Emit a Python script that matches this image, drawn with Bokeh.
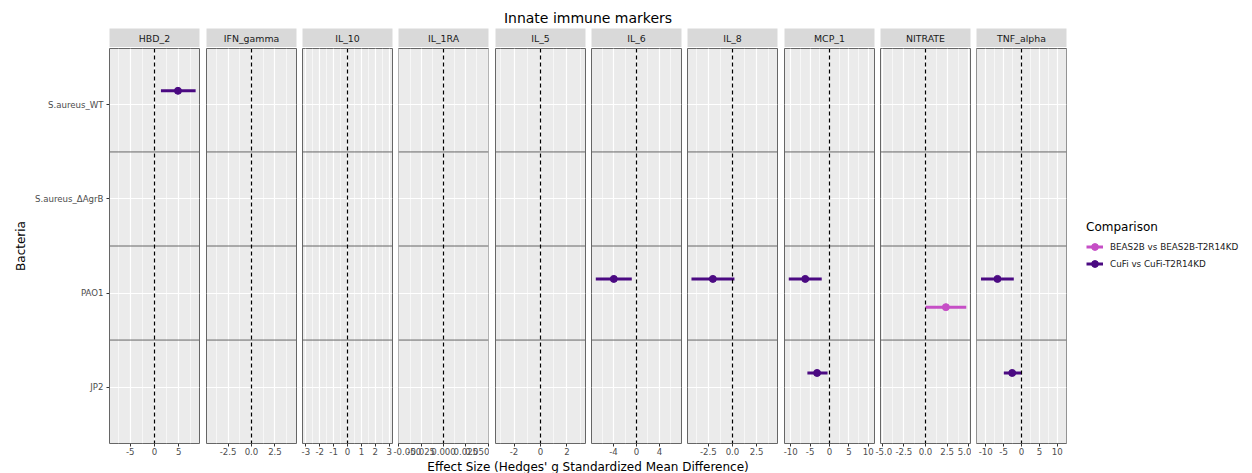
from bokeh.plotting import figure
from bokeh.models import (Range1d, FactorRange, FixedTicker, ColumnDataSource, Span, Label,
                          Legend, LegendItem, Grid, CategoricalTicker)
from bokeh.layouts import row, column
from bokeh.transform import dodge
from bokeh.embed import file_html
from bokeh.resources import INLINE

FONT = "DejaVu Sans"

# ---------------- data ----------------
plot_title = "Innate immune markers"
x_title = "Effect Size (Hedges' g Standardized Mean Difference)"
y_title = "Bacteria"
legend_title = "Comparison"

markers = ["HBD_2", "IFN_gamma", "IL_10", "IL_1RA", "IL_5", "IL_6", "IL_8",
           "MCP_1", "NITRATE", "TNF_alpha"]
bacteria = ["S.aureus_WT", "S.aureus_\u0394AgrB", "PAO1", "JP2"]  # top to bottom
comparisons = ["BEAS2B vs BEAS2B-T2R14KD", "CuFi vs CuFi-T2R14KD"]
comparison_colors = ["#C64FC6", "#4B0A82"]

est_marker = ["HBD_2", "IL_6", "IL_8", "MCP_1", "MCP_1", "NITRATE", "TNF_alpha", "TNF_alpha"]
est_bacteria = ["S.aureus_WT", "PAO1", "PAO1", "PAO1", "JP2", "PAO1", "PAO1", "JP2"]
est_comparison = ["CuFi vs CuFi-T2R14KD", "CuFi vs CuFi-T2R14KD", "CuFi vs CuFi-T2R14KD",
                  "CuFi vs CuFi-T2R14KD", "CuFi vs CuFi-T2R14KD", "BEAS2B vs BEAS2B-T2R14KD",
                  "CuFi vs CuFi-T2R14KD", "CuFi vs CuFi-T2R14KD"]
est_g = [4.85, -3.95, -2.03, -6.25, -3.2, 2.35, -6.7, -2.6]
est_ci_low = [1.33, -7.08, -4.24, -10.5, -5.7, 0.0, -11.3, -4.94]
est_ci_high = [8.5, -0.82, 0.2, -2.0, -0.5, 4.7, -2.15, 0.08]

x_limits = [9.3, 4.79, 3.24, 0.0505, 3.4, 7.83, 4.65, 11.6, 5.19, 12.56]
x_ticks = [[-5, 0, 5], [-2.5, 0, 2.5], [-3, -2, -1, 0, 1, 2, 3],
           [-0.05, -0.025, 0, 0.025, 0.05], [-2, 0, 2], [-4, 0, 4], [-2.5, 0, 2.5],
           [-10, -5, 0, 5, 10], [-5, -2.5, 0, 2.5, 5], [-10, -5, 0, 5, 10]]
x_tick_labels = [["-5", "0", "5"], ["-2.5", "0.0", "2.5"], ["-3", "-2", "-1", "0", "1", "2", "3"],
                 ["-0.050", "-0.025", "0.000", "0.025", "0.050"], ["-2", "0", "2"],
                 ["-4", "0", "4"], ["-2.5", "0.0", "2.5"], ["-10", "-5", "0", "5", "10"],
                 ["-5.0", "-2.5", "0.0", "2.5", "5.0"], ["-10", "-5", "0", "5", "10"]]
row_separators = [1, 2, 3]

# ---------------- layout / style ----------------
PANEL_W = 90
FRAME_H = 395
BOTTOM = 14
TITLE_H = 28
XLAB_H = 16
LEFT0 = 109
left_borders = [LEFT0, 6, 5, 5, 6, 5, 5, 6, 5, 5]
RIGHT_W = 185
comparison_dodge = [-0.15, 0.15]
BG = "#EBEBEB"
STRIP = "#D9D9D9"
BORDER = "#666666"
TICK_TXT = "#4D4D4D"
NAN = float("nan")


def minor_of(ticks, lim):
    out = []
    step = ticks[1] - ticks[0]
    cands = [ticks[0] - step / 2] + [(a + b) / 2 for a, b in zip(ticks[:-1], ticks[1:])] + [ticks[-1] + step / 2]
    for c in cands:
        if -lim <= c <= lim:
            out.append(c)
    return out


def blank_fig(width, height, xr, yr, left, right, top=0, bottom=0):
    f = figure(width=width, height=height, x_range=xr, y_range=yr,
               min_border_left=left, min_border_right=right,
               min_border_top=top, min_border_bottom=bottom,
               x_axis_location=None, y_axis_location=None,
               toolbar_location=None, tools="", output_backend="svg")
    f.grid.visible = False
    f.outline_line_color = None
    f.background_fill_color = "white"
    f.border_fill_color = "white"
    return f


FULL_W = LEFT0 + 957 + RIGHT_W

# title figure
title_fig = blank_fig(FULL_W, TITLE_H, Range1d(0, 1), Range1d(0, TITLE_H), LEFT0, RIGHT_W)
title_fig.add_layout(Label(x=0.5, y=TITLE_H - 17, text=plot_title, text_align="center",
                           text_baseline="middle", text_font=FONT, text_font_size="14px",
                           text_color="#000000"))

strips = []
panels = []
for i, m in enumerate(markers):
    L = left_borders[i]
    lim = x_limits[i]

    s = blank_fig(L + PANEL_W + 1, 19, Range1d(0, 1), Range1d(0, 1), L, 1)
    s.background_fill_color = STRIP
    s.add_layout(Label(x=0.5, y=0.5, text=m, text_align="center", text_baseline="middle",
                       text_font=FONT, text_font_size="9.4px", text_color="#1A1A1A"))
    strips.append(s)

    yr = FactorRange(factors=bacteria[::-1], range_padding=0.1, range_padding_units="absolute")
    p = figure(width=L + PANEL_W + 1, height=FRAME_H + 1 + BOTTOM,
               x_range=Range1d(-lim, lim), y_range=yr,
               min_border_left=L, min_border_right=1, min_border_top=1, min_border_bottom=BOTTOM,
               y_axis_location="left" if i == 0 else None,
               toolbar_location=None, tools="", output_backend="svg")
    p.background_fill_color = BG
    p.border_fill_color = "white"
    p.outline_line_color = BORDER
    p.outline_line_width = 1

    tk = FixedTicker(ticks=x_ticks[i], minor_ticks=minor_of(x_ticks[i], lim))
    ax = p.xaxis[0]
    ax.ticker = tk
    ax.major_label_overrides = {t: lab for t, lab in zip(x_ticks[i], x_tick_labels[i])}
    ax.axis_line_color = None
    ax.major_tick_out = 3
    ax.major_tick_in = 0
    ax.major_tick_line_color = "#333333"
    ax.minor_tick_line_color = None
    ax.major_label_standoff = 0
    ax.major_label_text_font = FONT
    ax.major_label_text_font_size = "8.6px"
    ax.major_label_text_color = TICK_TXT

    xg = p.xgrid[0]
    xg.ticker = tk
    xg.grid_line_color = "white"
    xg.grid_line_width = 1.2
    xg.minor_grid_line_color = "white"
    xg.minor_grid_line_width = 0.6

    if i == 0:
        ya = p.yaxis[0]
        ya.axis_label = y_title
        ya.axis_label_text_font = FONT
        ya.axis_label_text_font_size = "12px"
        ya.axis_label_text_font_style = "normal"
        ya.axis_label_text_color = "#000000"
        ya.axis_label_standoff = 4
        ya.major_label_text_font = FONT
        ya.major_label_text_font_size = "8.6px"
        ya.major_label_text_color = TICK_TXT
        ya.major_label_standoff = 3
        ya.major_tick_out = 3
        ya.major_tick_in = 0
        ya.major_tick_line_color = "#333333"
        ya.axis_line_color = None
        for yg in p.ygrid:
            yg.grid_line_color = "white"
            yg.grid_line_width = 1.2
    else:
        p.ygrid.visible = False
        p.add_layout(Grid(dimension=1, ticker=CategoricalTicker(),
                          grid_line_color="white", grid_line_width=1.2))

    for sep in row_separators:
        p.add_layout(Span(location=sep, dimension="width", line_color=BORDER, line_width=1))
    p.add_layout(Span(location=0, dimension="height", line_color="black",
                      line_dash="4 3", line_width=1.2))

    for k, comp in enumerate(comparisons):
        idx = [j for j in range(len(est_marker))
               if est_marker[j] == m and est_comparison[j] == comp]
        src = ColumnDataSource(dict(
            bacteria=[est_bacteria[j] for j in idx],
            g=[est_g[j] for j in idx],
            lo=[est_ci_low[j] for j in idx],
            hi=[est_ci_high[j] for j in idx],
        ))
        yv = dodge("bacteria", comparison_dodge[k], range=p.y_range)
        col = comparison_colors[k]
        p.segment(x0="lo", x1="hi", y0=yv, y1=yv, source=src, line_color=col, line_width=3)
        p.scatter(x="g", y=yv, source=src, size=7, fill_color=col, line_color=col)
    panels.append(p)

# legend figure (legend keys only, no visible marks of their own)
leg_fig = blank_fig(RIGHT_W, FRAME_H + 1 + BOTTOM, Range1d(0, 1), Range1d(0, 1), 0, 0)
items = []
for k, comp in enumerate(comparisons):
    src = ColumnDataSource(dict(x=[NAN], y=[NAN]))
    col = comparison_colors[k]
    seg = leg_fig.segment(x0="x", y0="y", x1="x", y1="y", source=src, line_color=col, line_width=3)
    sc = leg_fig.scatter(x="x", y="y", source=src, size=7, fill_color=col, line_color=col)
    items.append(LegendItem(label=comp, renderers=[seg, sc]))
leg = Legend(items=items, location=(19, 171), title=legend_title,
             title_text_font=FONT, title_text_font_size="12px", title_text_font_style="normal",
             title_text_color="#000000", title_standoff=4,
             label_text_font=FONT, label_text_font_size="8.8px", label_text_color="#1A1A1A",
             glyph_width=17, glyph_height=17, label_height=17, label_standoff=7,
             spacing=0, padding=8, margin=0,
             border_line_color=None, background_fill_alpha=0)
leg_fig.add_layout(leg)

# x-axis title figure
xlab_fig = blank_fig(FULL_W, XLAB_H, Range1d(0, 1), Range1d(0, XLAB_H), LEFT0, RIGHT_W)
xlab_fig.add_layout(Label(x=0.5, y=7, text=x_title, text_align="center",
                          text_baseline="middle", text_font=FONT, text_font_size="12px",
                          text_color="#000000"))

layout = column(title_fig, row(*strips), row(*panels, leg_fig), xlab_fig)

open("out.html", "w").write(file_html(layout, INLINE))
